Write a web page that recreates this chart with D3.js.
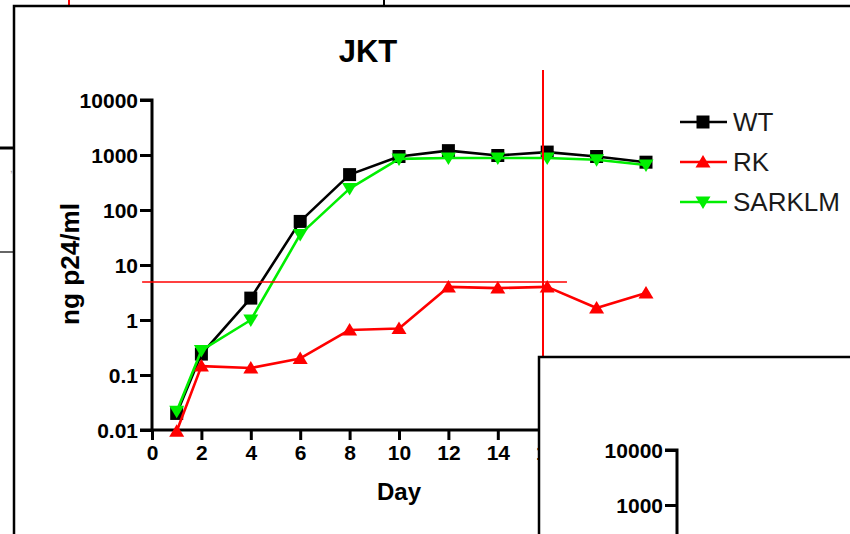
<!DOCTYPE html>
<html><head><meta charset="utf-8">
<script src="https://cdn.jsdelivr.net/npm/d3@7"></script>
<style>html,body{margin:0;padding:0;background:#fff}svg{display:block}</style>
</head><body><svg id="c" width="850" height="534"></svg>
<script>
const days = [1, 2, 4, 6, 8, 10, 12, 14, 16, 18, 20];
const wt = [0.02, 0.24, 2.5, 62, 440, 940, 1200, 980, 1130, 940, 740];
const rk = [0.0095, 0.145, 0.134, 0.2, 0.66, 0.7, 4.0, 3.8, 4.0, 1.65, 3.1];
const sarklm = [0.022, 0.28, 1.0, 36, 245, 850, 880, 880, 880, 820, 660];
const seriesNames = ["WT", "RK", "SARKLM"];
const seriesColors = ["#000000", "#ff0000", "#00ee00"];
const yTicks = [0.01, 0.1, 1, 10, 100, 1000, 10000];
const yTickLabels = ["0.01", "0.1", "1", "10", "100", "1000", "10000"];
const xTicks = [0, 2, 4, 6, 8, 10, 12, 14, 16];
const refLevel = 4.9;          // horizontal red guide (ng/ml)
const refLevelSpan = [-0.4, 16.8];
const refDay = 15.83;          // vertical red guide (day)
const refDaySpan = [35000, 0.001];

const svg = d3.select("#c");
const FONT = "'Liberation Sans', Arial, sans-serif";
svg.append("rect").attr("width", 850).attr("height", 534).attr("fill", "#fff");

// fragments of neighbouring panels
svg.append("line").attr("x1", 69).attr("x2", 69).attr("y1", 0).attr("y2", 6).attr("stroke", "#f00").attr("stroke-width", 2);
svg.append("line").attr("x1", 384).attr("x2", 384).attr("y1", 0).attr("y2", 6).attr("stroke", "#000").attr("stroke-width", 2);
svg.append("line").attr("x1", 0).attr("x2", 14).attr("y1", 148).attr("y2", 148).attr("stroke", "#000").attr("stroke-width", 3);
svg.append("line").attr("x1", 0).attr("x2", 14).attr("y1", 252).attr("y2", 252).attr("stroke", "#000").attr("stroke-width", 1.2);
svg.append("text").attr("x", 10).attr("y", 172).attr("font-family", FONT).attr("font-size", 10).attr("fill", "#999").text(",");
// main panel frame
svg.append("path").attr("d", "M14,534 V6 H850").attr("fill", "none").attr("stroke", "#000").attr("stroke-width", 2.5);

const x = d3.scaleLinear().domain([0, 20]).range([152, 646]);
const y = d3.scaleLog().domain([0.01, 10000]).range([430, 100]);

// title
svg.append("text").attr("x", 368).attr("y", 62).attr("text-anchor", "middle")
  .attr("font-family", FONT).attr("font-weight", "bold").attr("font-size", 31).text("JKT");

// y axis
const yAxis = d3.axisLeft(y).tickValues(yTicks).tickFormat((d, i) => yTickLabels[i]).tickSize(12).tickPadding(2);
const gy = svg.append("g").attr("transform", `translate(${x(0)},0)`).call(yAxis);
gy.select(".domain").attr("stroke-width", 3).attr("d", `M-12,${y(10000)}H0V${y(0.01)}`);
gy.selectAll(".tick line").attr("stroke-width", 3);
gy.selectAll(".tick text").attr("font-family", FONT).attr("font-weight", "bold").attr("font-size", 21).attr("fill", "#000").attr("dy", "0.38em");

// x axis
const xAxis = d3.axisBottom(x).tickValues(xTicks).tickSize(10).tickPadding(5);
const gx = svg.append("g").attr("transform", `translate(0,${y(0.01)})`).call(xAxis);
gx.select(".domain").attr("stroke-width", 3).attr("d", `M${x(0) - 12},0H${x(20.5)}`);
gx.selectAll(".tick line").attr("stroke-width", 3);
gx.selectAll(".tick text").attr("font-family", FONT).attr("font-weight", "bold").attr("font-size", 21).attr("fill", "#000");

svg.append("text").attr("x", 399).attr("y", 500).attr("text-anchor", "middle")
  .attr("font-family", FONT).attr("font-weight", "bold").attr("font-size", 24).text("Day");
svg.append("text").attr("transform", "translate(79,264) rotate(-90)").attr("text-anchor", "middle")
  .attr("font-family", FONT).attr("font-weight", "bold").attr("font-size", 25)
  .attr("textLength", 122).attr("lengthAdjust", "spacingAndGlyphs").text("ng p24/ml");

// marker shapes
const square = "M-6.5,-6.5H6.5V6.5H-6.5Z";
const triUp = "M0,-7L7.5,5.5H-7.5Z";
const triDown = "M0,7L7.5,-5.5H-7.5Z";
const shapes = [square, triUp, triDown];
const allSeries = [wt, rk, sarklm];
const line = d3.line().x(d => x(d[0])).y(d => y(d[1]));

function drawSeries(i) {
  const pts = days.map((d, j) => [d, allSeries[i][j]]);
  const g = svg.append("g");
  g.append("path").attr("d", line(pts)).attr("fill", "none").attr("stroke", seriesColors[i]).attr("stroke-width", 2.6).attr("stroke-linejoin", "round");
  g.selectAll("path.m").data(pts).enter().append("path").attr("class", "m")
    .attr("d", shapes[i]).attr("transform", d => `translate(${x(d[0])},${y(d[1])})`).attr("fill", seriesColors[i]);
}
drawSeries(0); drawSeries(1); drawSeries(2);

// red guide lines
svg.append("line").attr("x1", x(refLevelSpan[0])).attr("x2", x(refLevelSpan[1])).attr("y1", y(refLevel)).attr("y2", y(refLevel))
  .attr("stroke", "#f00").attr("stroke-width", 1.6);
svg.append("line").attr("x1", x(refDay)).attr("x2", x(refDay)).attr("y1", y(refDaySpan[0])).attr("y2", y(refDaySpan[1]))
  .attr("stroke", "#f00").attr("stroke-width", 2);

// legend
const lg = svg.append("g");
seriesNames.forEach((n, i) => {
  const cy = 122 + i * 40;
  lg.append("line").attr("x1", 680).attr("x2", 727).attr("y1", cy).attr("y2", cy).attr("stroke", seriesColors[i]).attr("stroke-width", 2.6);
  lg.append("path").attr("d", shapes[i]).attr("transform", `translate(703,${cy})`).attr("fill", seriesColors[i]);
  lg.append("text").attr("x", 733).attr("y", cy + 9).attr("font-family", FONT).attr("font-size", 26).attr("fill", "#1a1a1a").text(n);
});

// overlapping lower-right panel
svg.append("rect").attr("x", 539).attr("y", 357).attr("width", 320).attr("height", 200)
  .attr("fill", "#fff").attr("stroke", "#000").attr("stroke-width", 2.5);
const y2 = d3.scaleLog().domain([1000, 10000]).range([505, 450]);
const gy2 = svg.append("g").attr("transform", "translate(677,0)")
  .call(d3.axisLeft(y2).tickValues([1000, 10000]).tickFormat(d3.format("d")).tickSize(12).tickPadding(2));
gy2.select(".domain").attr("stroke-width", 3).attr("d", "M-12,450H0V540");
gy2.selectAll(".tick line").attr("stroke-width", 3);
gy2.selectAll(".tick text").attr("font-family", FONT).attr("font-weight", "bold").attr("font-size", 21).attr("fill", "#000").attr("dy", "0.38em");
</script></body></html>
